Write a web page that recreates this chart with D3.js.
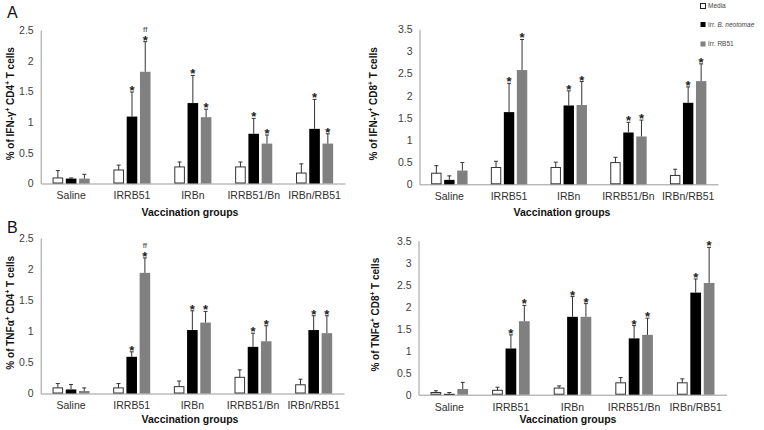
<!DOCTYPE html>
<html>
<head>
<meta charset="utf-8">
<script src="https://cdn.jsdelivr.net/npm/d3@7"></script>
<style>
  html, body { margin: 0; padding: 0; background: #fff; }
  svg { display: block; font-family: "Liberation Sans", Arial, sans-serif; }
</style>
</head>
<body>
<svg id="chart" width="764" height="430"></svg>
<script>
// ---------- DATA ----------
const categories = ["Saline", "IRRB51", "IRBn", "IRRB51/Bn", "IRBn/RB51"];
const seriesNames = ["Media", "Irr. B. neotomae", "Irr. RB51"];

// Panel A left: % IFN-γ+ CD4+ T cells
const ifnCD4Media    = [0.09, 0.22, 0.27, 0.27, 0.17];
const ifnCD4MediaSD  = [0.12, 0.08, 0.08, 0.08, 0.15];
const ifnCD4Neo      = [0.08, 1.09, 1.31, 0.81, 0.89];
const ifnCD4NeoSD    = [0.01, 0.40, 0.45, 0.25, 0.48];
const ifnCD4RB51     = [0.08, 1.82, 1.08, 0.65, 0.65];
const ifnCD4RB51SD   = [0.07, 0.49, 0.13, 0.14, 0.16];

// Panel A right: % IFN-γ+ CD8+ T cells
const ifnCD8Media    = [0.25, 0.38, 0.38, 0.49, 0.20];
const ifnCD8MediaSD  = [0.17, 0.14, 0.12, 0.12, 0.14];
const ifnCD8Neo      = [0.10, 1.63, 1.78, 1.17, 1.84];
const ifnCD8NeoSD    = [0.09, 0.65, 0.33, 0.23, 0.36];
const ifnCD8RB51     = [0.31, 2.58, 1.79, 1.08, 2.33];
const ifnCD8RB51SD   = [0.18, 0.69, 0.53, 0.37, 0.39];

// Panel B left: % TNFα+ CD4+ T cells
const tnfCD4Media    = [0.09, 0.09, 0.11, 0.26, 0.14];
const tnfCD4MediaSD  = [0.07, 0.07, 0.09, 0.12, 0.09];
const tnfCD4Neo      = [0.065, 0.59, 1.02, 0.75, 1.02];
const tnfCD4NeoSD    = [0.08, 0.08, 0.31, 0.22, 0.23];
const tnfCD4RB51     = [0.04, 1.94, 1.14, 0.84, 0.97];
const tnfCD4RB51SD   = [0.05, 0.24, 0.18, 0.25, 0.28];

// Panel B right: % TNFα+ CD8+ T cells
const tnfCD8Media    = [0.05, 0.10, 0.15, 0.27, 0.27];
const tnfCD8MediaSD  = [0.04, 0.07, 0.05, 0.12, 0.09];
const tnfCD8Neo      = [0.02, 1.05, 1.77, 1.28, 2.32];
const tnfCD8NeoSD    = [0.03, 0.31, 0.46, 0.29, 0.31];
const tnfCD8RB51     = [0.13, 1.67, 1.77, 1.36, 2.54];
const tnfCD8RB51SD   = [0.15, 0.36, 0.30, 0.38, 0.81];

// significance marks (per category) for Neo and RB51 series
const starNeo  = [false, true, true, true, true];
const starRB51 = [false, true, true, true, true];
const ffCD4RB51 = [false, true, false, false, false];
const ffNone    = [false, false, false, false, false];

const ticksCD4 = [0, 0.5, 1, 1.5, 2, 2.5];
const ticksCD8 = [0, 0.5, 1, 1.5, 2, 2.5, 3, 3.5];

// ---------- LAYOUT ----------
const svg = d3.select("#chart");
const colors = ["#ffffff", "#000000", "#808080"];

const panels = [
  { title: ["% of IFN-γ", "+", " CD4", "+", " T cells"], ticks: ticksCD4,
    means: [ifnCD4Media, ifnCD4Neo, ifnCD4RB51], sds: [ifnCD4MediaSD, ifnCD4NeoSD, ifnCD4RB51SD],
    ff: ffCD4RB51, left: 40.7, right: 345, zero: 183.5, top: 30, titleX: 14, xTitleX: 190, xTitleY: 216 },
  { title: ["% of IFN-γ", "+", " CD8", "+", " T cells"], ticks: ticksCD8,
    means: [ifnCD8Media, ifnCD8Neo, ifnCD8RB51], sds: [ifnCD8MediaSD, ifnCD8NeoSD, ifnCD8RB51SD],
    ff: ffNone, left: 419.5, right: 718, zero: 184.3, top: 29.3, titleX: 377, xTitleX: 562, xTitleY: 216 },
  { title: ["% of TNFα", "+", " CD4", "+", " T cells"], ticks: ticksCD4,
    means: [tnfCD4Media, tnfCD4Neo, tnfCD4RB51], sds: [tnfCD4MediaSD, tnfCD4NeoSD, tnfCD4RB51SD],
    ff: ffCD4RB51, left: 40.7, right: 344, zero: 393.5, top: 238, titleX: 14, xTitleX: 190, xTitleY: 423 },
  { title: ["% of TNFα", "+", " CD8", "+", " T cells"], ticks: ticksCD8,
    means: [tnfCD8Media, tnfCD8Neo, tnfCD8RB51], sds: [tnfCD8MediaSD, tnfCD8NeoSD, tnfCD8RB51SD],
    ff: ffNone, left: 418.5, right: 726.5, zero: 394.7, top: 240.7, titleX: 379, xTitleX: 568, xTitleY: 423 }
];

panels.forEach(p => {
  const g = svg.append("g");
  const maxV = p.ticks[p.ticks.length - 1];
  const x = d3.scaleBand().domain(categories).range([p.left, p.right])
    .paddingInner(0.39).paddingOuter(0.195);
  const xs = d3.scaleBand().domain(d3.range(3)).range([0, x.bandwidth()])
    .paddingInner(0.2).paddingOuter(0);
  const y = d3.scaleLinear().domain([0, maxV]).range([p.zero, p.top]);

  // y axis
  const ya = g.append("g").attr("transform", `translate(${p.left},0)`)
    .call(d3.axisLeft(y).tickValues(p.ticks).tickFormat(d3.format("~g")).tickSize(0).tickPadding(7).tickSizeOuter(0));
  ya.select(".domain").attr("stroke", "#9a9a9a");
  ya.selectAll("text").attr("font-size", 10.5).attr("fill", "#404040")
    .attr("font-family", "Liberation Sans, Arial, sans-serif");

  // x axis
  const xa = g.append("g").attr("transform", `translate(0,${p.zero})`)
    .call(d3.axisBottom(x).tickSize(0).tickPadding(8.5).tickSizeOuter(0));
  xa.select(".domain").attr("stroke", "#9a9a9a");
  xa.selectAll("text").attr("font-size", 10.5).attr("fill", "#303030")
    .attr("font-family", "Liberation Sans, Arial, sans-serif");

  // bars
  p.means.forEach((vals, si) => {
    const sds = p.sds[si];
    const rows = vals.map((v, i) => ({ v, sd: sds[i], i, cat: categories[i] }));
    const sg = g.append("g");
    const cx = r => x(r.cat) + xs(si) + xs.bandwidth() / 2;
    sg.selectAll("rect").data(rows).join("rect")
      .attr("x", r => x(r.cat) + xs(si) + (si === 0 ? 0.5 : 0))
      .attr("width", xs.bandwidth() - (si === 0 ? 1 : 0))
      .attr("y", r => y(r.v))
      .attr("height", r => p.zero - y(r.v) - (si === 0 ? 0.5 : 0))
      .attr("fill", colors[si])
      .attr("stroke", si === 0 ? "#333" : "none")
      .attr("stroke-width", 1);
    // error bars
    sg.selectAll("line.err").data(rows).join("line").attr("class", "err")
      .attr("x1", cx).attr("x2", cx)
      .attr("y1", r => y(r.v)).attr("y2", r => y(r.v + r.sd))
      .attr("stroke", "#333").attr("stroke-width", 1);
    sg.selectAll("line.cap").data(rows).join("line").attr("class", "cap")
      .attr("x1", r => cx(r) - 2).attr("x2", r => cx(r) + 2)
      .attr("y1", r => y(r.v + r.sd)).attr("y2", r => y(r.v + r.sd))
      .attr("stroke", "#333").attr("stroke-width", 1);
    // stars
    if (si > 0) {
      const flags = si === 1 ? starNeo : starRB51;
      sg.selectAll("text.star").data(rows.filter(r => flags[r.i])).join("text").attr("class", "star")
        .attr("x", cx)
        .attr("y", r => y(r.v + r.sd) + 3)
        .attr("text-anchor", "middle").attr("font-size", 13).attr("font-weight", "bold")
        .attr("fill", "#222").text("*");
    }
    if (si === 2) {
      sg.selectAll("text.ff").data(rows.filter(r => p.ff[r.i])).join("text").attr("class", "ff")
        .attr("x", cx)
        .attr("y", r => y(r.v + r.sd) - 10)
        .attr("text-anchor", "middle").attr("font-size", 8)
        .attr("fill", "#444").text("ff");
    }
  });

  // y title
  const cy = (p.zero + p.top) / 2 - 3;
  const yt = g.append("text")
    .attr("transform", `translate(${p.titleX},${cy}) rotate(-90)`)
    .attr("text-anchor", "middle").attr("font-size", 10).attr("font-weight", "bold").attr("fill", "#111");
  p.title.forEach((t, k) => {
    const sup = (k % 2 === 1);
    yt.append("tspan").text(t)
      .attr("font-size", sup ? 6.5 : 10)
      .attr("dy", sup ? -4 : (k > 0 ? 4 : 0));
  });

  // x title
  g.append("text").attr("x", p.xTitleX).attr("y", p.xTitleY)
    .attr("text-anchor", "middle").attr("font-size", 10.5).attr("font-weight", "bold")
    .attr("fill", "#111").text("Vaccination groups");
});

// panel letters
svg.append("text").attr("x", 7).attr("y", 18).attr("font-size", 16).attr("fill", "#111").text("A");
svg.append("text").attr("x", 7).attr("y", 233).attr("font-size", 16).attr("fill", "#111").text("B");

// legend
const legY = [3.5, 22, 41.5];
const leg = svg.append("g");
seriesNames.forEach((name, i) => {
  leg.append("rect").attr("x", 700.5).attr("y", legY[i]).attr("width", 5).attr("height", 5)
    .attr("fill", colors[i]).attr("stroke", i === 0 ? "#222" : "none").attr("stroke-width", 1);
  const t = leg.append("text").attr("x", 708).attr("y", legY[i] + 4.8)
    .attr("font-size", 6.5).attr("fill", "#444");
  if (i === 1) {
    t.append("tspan").text("Irr. ");
    t.append("tspan").attr("font-style", "italic").text("B. neotomae");
  } else {
    t.text(name);
  }
});
</script>
</body>
</html>
